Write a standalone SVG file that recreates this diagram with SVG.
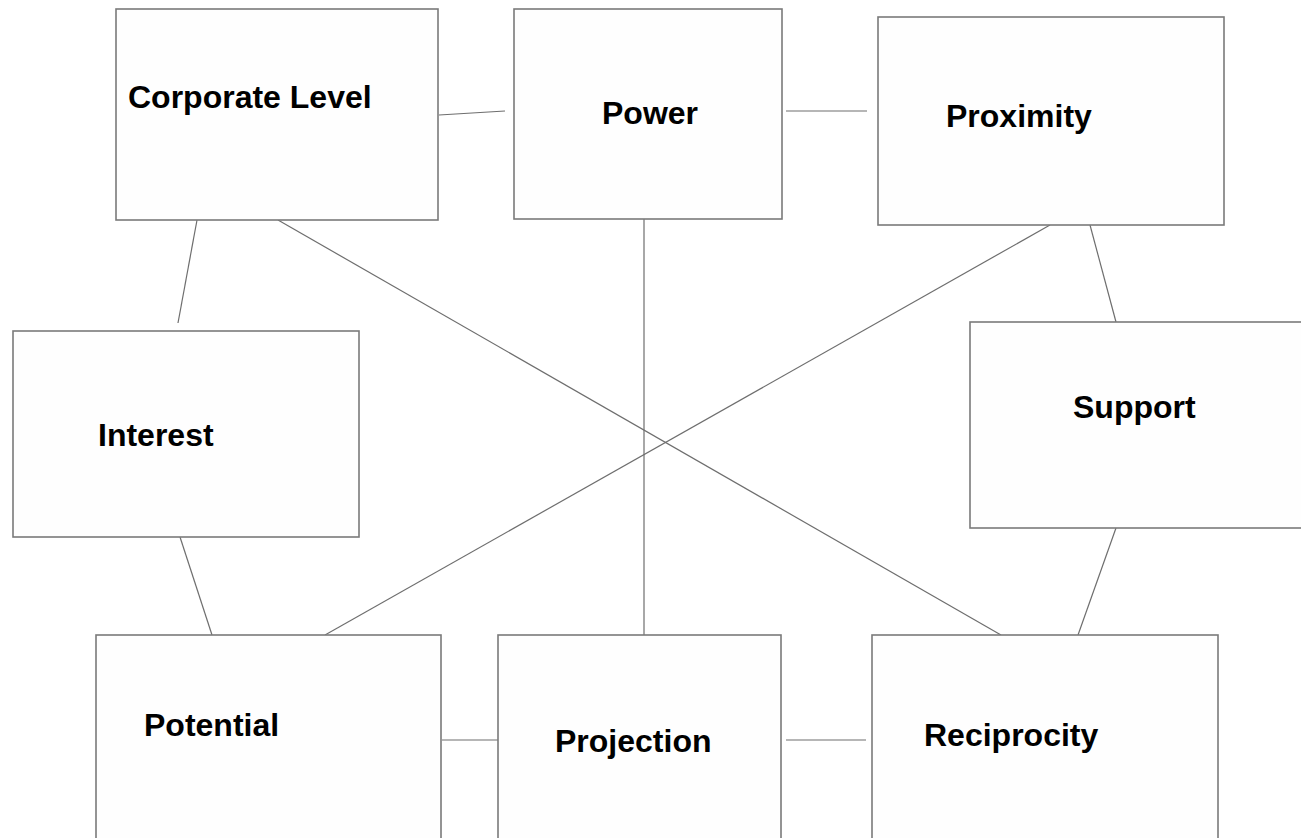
<svg xmlns="http://www.w3.org/2000/svg" width="1301" height="838" viewBox="0 0 1301 838">
<style>
.box{fill:#fefefe;stroke:#7a7a7a;stroke-width:1.6}
.lbl{font-family:"Liberation Sans",Arial,sans-serif;font-weight:bold;font-size:32px;fill:#000}
.con{stroke:#6e6e6e;stroke-width:1.2;fill:none}
</style>
<rect x="0" y="0" width="1301" height="838" fill="#ffffff"/>
<g id="connectors">
<line class="con" x1="439" y1="115" x2="505" y2="111"/>
<line class="con" x1="786" y1="111" x2="867" y2="111"/>
<line class="con" x1="644" y1="219" x2="644" y2="635"/>
<line class="con" x1="197" y1="220" x2="178" y2="323"/>
<line class="con" x1="278" y1="220" x2="1001" y2="635"/>
<line class="con" x1="1050" y1="225" x2="325" y2="635"/>
<line class="con" x1="1090" y1="225" x2="1116" y2="322"/>
<line class="con" x1="180" y1="537" x2="212" y2="635"/>
<line class="con" x1="1116" y1="528" x2="1078" y2="635"/>
<line class="con" x1="442" y1="740" x2="498" y2="740"/>
<line class="con" x1="786" y1="740" x2="866" y2="740"/>
</g>
<g id="node-corporate">
<rect class="box" x="116" y="9" width="322" height="211"/>
<text class="lbl" x="128" y="108">Corporate Level</text>
</g>
<g id="node-power">
<rect class="box" x="514" y="9" width="268" height="210"/>
<text class="lbl" x="602" y="124">Power</text>
</g>
<g id="node-proximity">
<rect class="box" x="878" y="17" width="346" height="208"/>
<text class="lbl" x="946" y="127">Proximity</text>
</g>
<g id="node-interest">
<rect class="box" x="13" y="331" width="346" height="206"/>
<text class="lbl" x="98" y="446">Interest</text>
</g>
<g id="node-support">
<rect class="box" x="970" y="322" width="360" height="206"/>
<text class="lbl" x="1073" y="418">Support</text>
</g>
<g id="node-potential">
<rect class="box" x="96" y="635" width="345" height="230"/>
<text class="lbl" x="144" y="736">Potential</text>
</g>
<g id="node-projection">
<rect class="box" x="498" y="635" width="283" height="230"/>
<text class="lbl" x="555" y="752">Projection</text>
</g>
<g id="node-reciprocity">
<rect class="box" x="872" y="635" width="346" height="230"/>
<text class="lbl" x="924" y="746">Reciprocity</text>
</g>
</svg>
